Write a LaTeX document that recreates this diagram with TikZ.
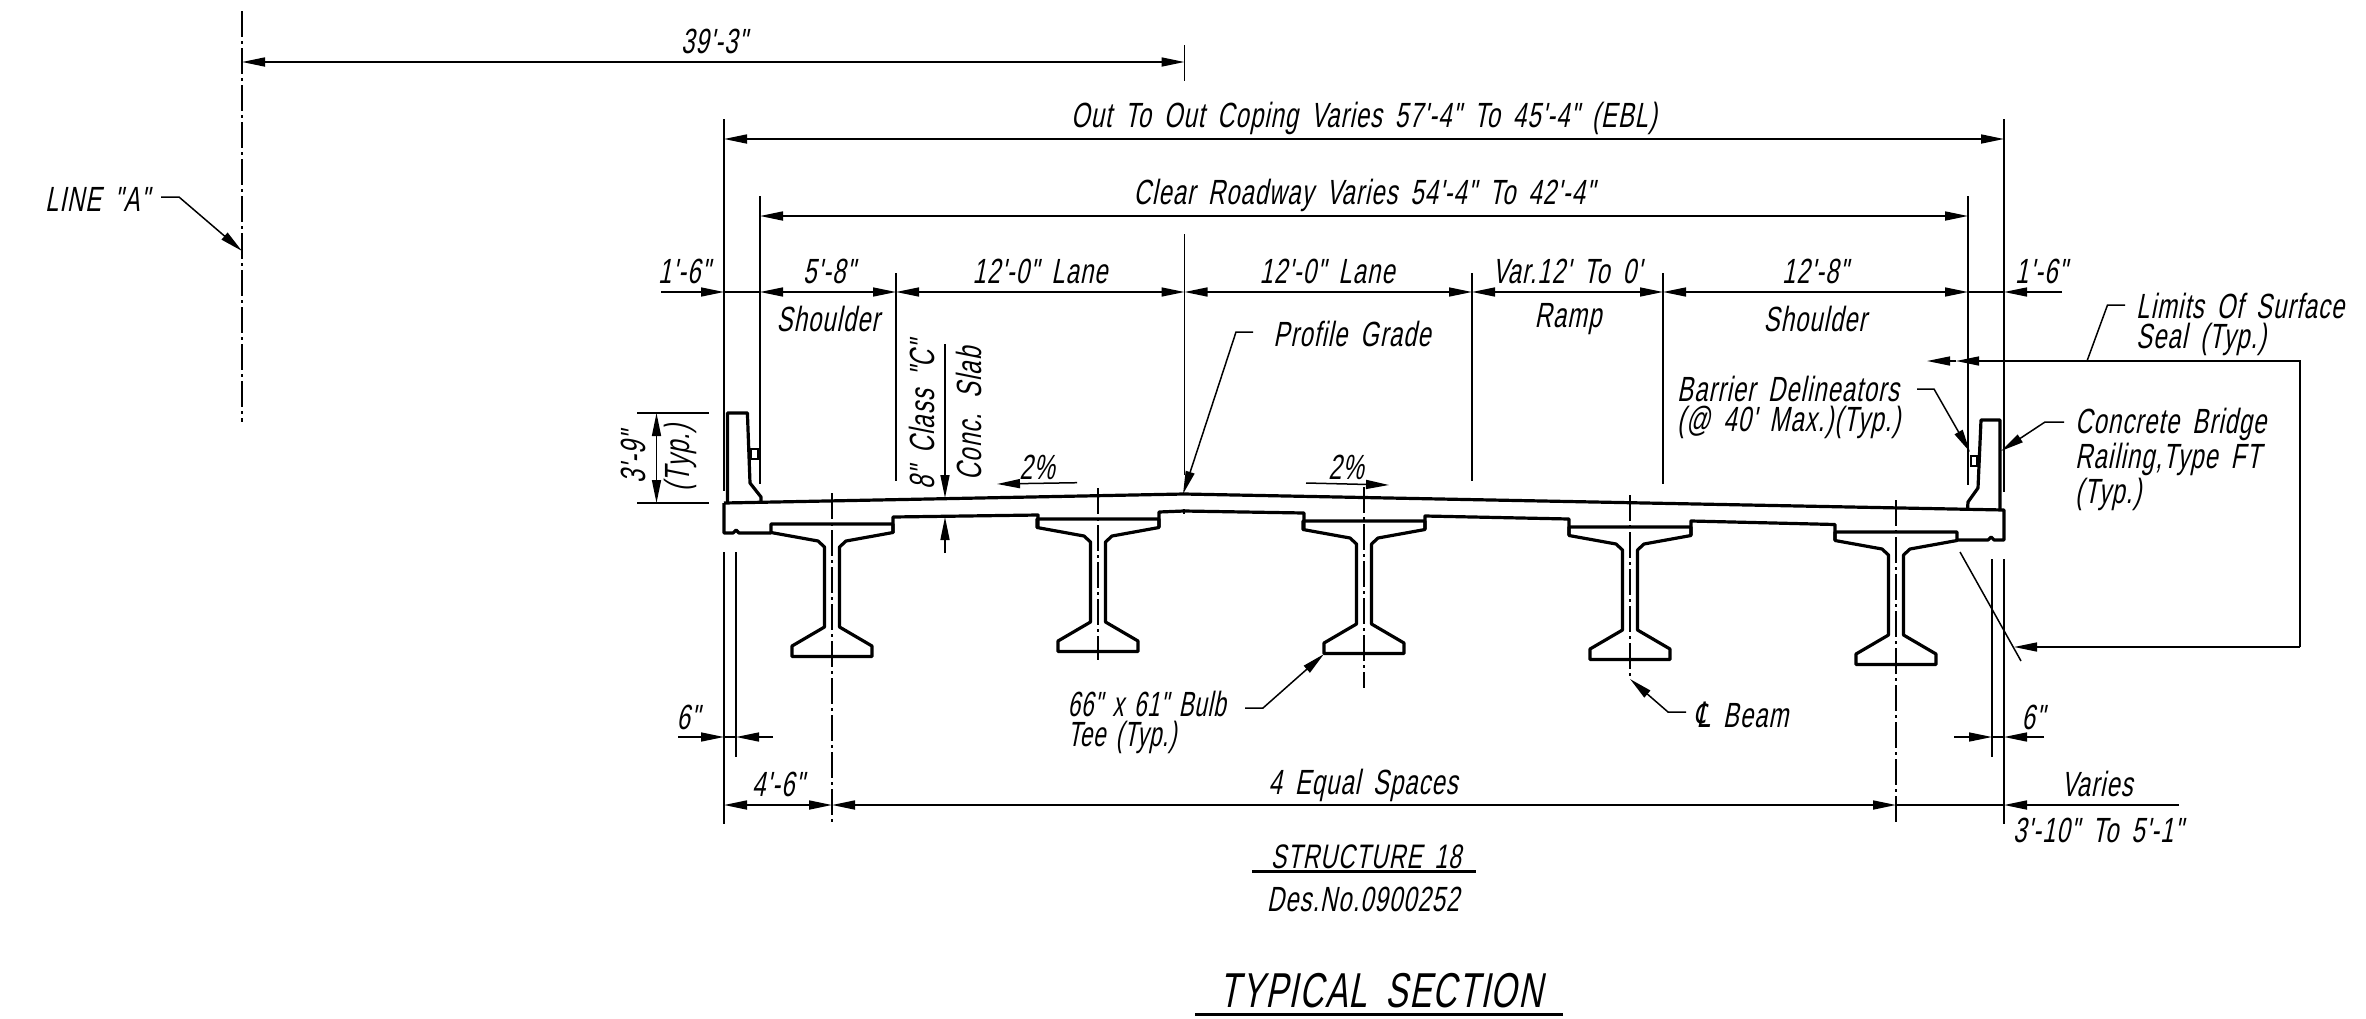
\documentclass[tikz,border=0pt]{standalone}
\usepackage{fontspec}
\usetikzlibrary{arrows.meta}
\newfontfamily\cadfont[FakeSlant=0.2,FakeStretch=0.68,LetterSpace=3,WordSpace=1.7]{Liberation Sans}
\newfontfamily\cadtight[FakeSlant=0.2,FakeStretch=0.64,LetterSpace=2,WordSpace=1.5]{Liberation Sans}
\newfontfamily\clfont[FakeSlant=0.2,FakeStretch=0.7]{DejaVu Sans}
\newcommand{\bulbtee}[2]{%
  \draw[obj] ({#1-61},#2) -- ({#1-61},{#2+8.5}) -- ({#1-14},{#2+17}) -- ({#1-7.5},{#2+23})
    -- ({#1-7.5},{#2+103}) -- ({#1-40},{#2+122}) -- ({#1-40},{#2+132.5}) -- ({#1+40},{#2+132.5})
    -- ({#1+40},{#2+122}) -- ({#1+7.5},{#2+103}) -- ({#1+7.5},{#2+23}) -- ({#1+14},{#2+17})
    -- ({#1+61},{#2+8.5}) -- ({#1+61},#2) -- cycle;}
\tikzset{
  x=1pt,y=-1pt,
  >={Triangle[length=23pt,width=9pt]},
  obj/.style={line width=3.2pt,line join=round},
  thinline/.style={line width=1.5pt},
  dimline/.style={line width=1.7pt},
  cline/.style={line width=1.5pt,dash pattern=on 26pt off 4pt on 3pt off 4pt},
  txt/.style={inner sep=0pt,yshift=-2pt,font=\cadfont\fontsize{35}{30}\selectfont},
  big/.style={inner sep=0pt,yshift=-2pt,font=\cadfont\fontsize{34}{34}\selectfont},
  vtxt/.style={inner sep=0pt,rotate=90,font=\cadfont\fontsize{35}{30}\selectfont},
}
\begin{document}
\begin{tikzpicture}
\useasboundingbox (0,0) rectangle (2366,1018);
% ---------- structure
\draw[obj] (724,503) -- (724,533) -- (733,533) -- (736,530) -- (739,533) -- (771,533);
\draw[obj] (893,533) -- (893,517) -- (1038,515) -- (1038,527);
\draw[obj] (1159,527) -- (1159,512) -- (1184,511) -- (1304,513) -- (1304,529);
\draw[obj] (1425,529) -- (1425,516) -- (1569,519) -- (1569,535);
\draw[obj] (1691,535) -- (1691,521) -- (1835,524.5) -- (1835,540);
\draw[obj] (1957,540) -- (1988,540) -- (1991,537) -- (1994,540) -- (2004,540) -- (2004,510) -- (1184,494) -- (724,503);
\bulbtee{832}{524}
\bulbtee{1098}{519}
\bulbtee{1364}{521}
\bulbtee{1630}{527}
\bulbtee{1896}{532}
% barriers
\draw[obj] (727.5,502) -- (727.5,413) -- (747.4,413) -- (750,483) -- (761,497) -- (761,502);
\draw[obj] (1967.5,509) -- (1968,502) -- (1978,488) -- (1981,420) -- (2000,420) -- (2000,510);
\draw[line width=1.8pt] (751,449) rectangle (758,459);
\draw[line width=1.8pt] (1971,456) rectangle (1977,466);
\draw[thinline] (1184,509) -- (1184,514);
% ---------- centre lines
\coordinate (lineAtop) at (242,11);
\coordinate (lineAbot) at (242,422);
\coordinate (lineAtip) at (242,251);
\coordinate (b1top) at (832,493);
\coordinate (b1bot) at (832,824);
\coordinate (b2top) at (1098,488);
\coordinate (b2bot) at (1098,660);
\coordinate (b3top) at (1364,487);
\coordinate (b3bot) at (1364,688);
\coordinate (b4top) at (1630,495);
\coordinate (b4bot) at (1630,679);
\coordinate (b5top) at (1896,500);
\coordinate (b5bot) at (1896,824);
\foreach \p in {lineA,b1,b2,b3,b4,b5}{\draw[cline] (\p top) -- (\p bot);}
% ---------- extension lines
\coordinate (e1a) at (724,119);  \coordinate (e1b) at (724,491);
\coordinate (e2a) at (760,196);  \coordinate (e2b) at (760,484);
\coordinate (e3a) at (896,273);  \coordinate (e3b) at (896,481);
\coordinate (e4a) at (1184.5,234); \coordinate (e4b) at (1184.5,475);
\coordinate (e5a) at (1472,273); \coordinate (e5b) at (1472,481);
\coordinate (e6a) at (1663,273); \coordinate (e6b) at (1663,484);
\coordinate (e7a) at (1968,196); \coordinate (e7b) at (1968,485);
\coordinate (e8a) at (2004,119); \coordinate (e8b) at (2004,492);
\foreach \i in {1,...,8}{\draw[thinline] (e\i a) -- (e\i b);}
\coordinate (e9a) at (1184.5,45); \coordinate (e9b) at (1184.5,81);
\draw[thinline] (e9a) -- (e9b);
\coordinate (l1a) at (724,552);  \coordinate (l1b) at (724,824);
\coordinate (l2a) at (736,552);  \coordinate (l2b) at (736,757);
\coordinate (l3a) at (1992,559); \coordinate (l3b) at (1992,757);
\coordinate (l4a) at (2004,559); \coordinate (l4b) at (2004,824);
\foreach \i in {1,...,4}{\draw[thinline] (l\i a) -- (l\i b);}
% ---------- overall dimensions
\coordinate (d1a) at (242,62);   \coordinate (d1b) at (1184.5,62);
\draw[dimline,<->] (d1a) -- (d1b);
\node[txt] (t39) at (714,39) {39'-3"};
\coordinate (d2a) at (724,139);  \coordinate (d2b) at (2004,139);
\draw[dimline,<->] (d2a) -- (d2b);
\node[txt] (tout) at (1364,116) {Out To Out Coping Varies 57'-4" To 45'-4" (EBL)};
\coordinate (d3a) at (760,216);  \coordinate (d3b) at (1968,216);
\draw[dimline,<->] (d3a) -- (d3b);
\node[txt] (tclear) at (1364,193) {Clear Roadway Varies 54'-4" To 42'-4"};
% ---------- row of lanes
\coordinate (r0) at (661,292);   \coordinate (r1) at (724,292);
\coordinate (r2) at (760,292);   \coordinate (r3) at (896,292);
\coordinate (r4) at (1184.5,292);\coordinate (r5) at (1472,292);
\coordinate (r6) at (1663,292);  \coordinate (r7) at (1968,292);
\coordinate (r8) at (2004,292);  \coordinate (r9) at (2062,292);
\draw[thinline,->] (r0) -- (r1);
\draw[thinline] (r1) -- (r2);
\draw[thinline,<->] (r2) -- (r3);
\draw[thinline,<->] (r3) -- (r4);
\draw[thinline,<->] (r4) -- (r5);
\draw[thinline,<->] (r5) -- (r6);
\draw[thinline,<->] (r6) -- (r7);
\draw[thinline] (r7) -- (r8);
\draw[thinline,->] (r9) -- (r8);
\node[txt] (t1a) at (684,269) {1'-6"};
\node[txt] (t58) at (829,269) {5'-8"};
\node[txt] (ts1) at (828,317) {Shoulder};
\node[txt] (t12a) at (1040,269) {12'-0" Lane};
\node[txt] (t12b) at (1327,269) {12'-0" Lane};
\node[txt] (tvar) at (1567,269) {Var.12' To 0'};
\node[txt] (tramp) at (1568,317) {Ramp};
\node[txt] (t128) at (1815,269) {12'-8"};
\node[txt] (ts2) at (1815,317) {Shoulder};
\node[txt] (t1b) at (2041,269) {1'-6"};
% ---------- barrier height
\coordinate (h1a) at (637,413); \coordinate (h1b) at (709,413);
\coordinate (h2a) at (637,503); \coordinate (h2b) at (709,503);
\draw[thinline] (h1a) -- (h1b);
\draw[thinline] (h2a) -- (h2b);
\coordinate (h3a) at (656.5,413); \coordinate (h3b) at (656.5,503);
\draw[thinline,<->] (h3a) -- (h3b);
\node[vtxt] (t39b) at (633,458) {3'-9"};
\node[vtxt] (ttyp) at (680,458) {(Typ.)};
% ---------- slab
\coordinate (s1) at (945,344); \coordinate (s2) at (945,498);
\coordinate (s3) at (945,553); \coordinate (s4) at (945,517);
\draw[thinline,->] (s1) -- (s2);
\draw[thinline,->] (s3) -- (s4);
\node[vtxt] (tclass) at (922,415) {8" Class "C"};
\node[vtxt] (tconc) at (969,414) {Conc. Slab};
% ---------- grades
\coordinate (g1) at (1077,482.7); \coordinate (g2) at (997,484);
\coordinate (g3) at (1306,483);   \coordinate (g4) at (1389,485);
\draw[thinline,->] (g1) -- (g2);
\draw[thinline,->] (g3) -- (g4);
\node[txt] (tg1) at (1037,465) {2\%};
\node[txt] (tg2) at (1346,465) {2\%};
% ---------- leaders
\node[txt] (tline) at (97,197) {LINE "A"};
\coordinate (la) at (161,197); \coordinate (lb) at (179,197);
\draw[thinline,->] (la) -- (lb) -- (lineAtip);
\node[txt] (tprof) at (1352,332) {Profile Grade};
\coordinate (pa) at (1253,332); \coordinate (pb) at (1236,332); \coordinate (pc) at (1183,494);
\draw[thinline,->] (pa) -- (pb) -- (pc);
\node[txt,anchor=west,align=left] (tbar) at (1677,405) {Barrier Delineators\\(@ 40' Max.)(Typ.)};
\coordinate (ba) at (1917,389); \coordinate (bb) at (1934,389); \coordinate (bc) at (1970,452);
\draw[thinline,->] (ba) -- (bb) -- (bc);
\node[txt,anchor=west,align=left,font=\cadfont\fontsize{35}{35}\selectfont] (tconcr) at (2075,457) {Concrete Bridge\\Railing,Type FT\\(Typ.)};
\coordinate (ca) at (2064,422); \coordinate (cb) at (2045,422); \coordinate (cc) at (2001,451);
\draw[thinline,->] (ca) -- (cb) -- (cc);
\node[txt,anchor=west,align=left] (tlim) at (2136,322) {Limits Of Surface\\Seal (Typ.)};
\coordinate (lia) at (2125,305); \coordinate (lib) at (2107.5,305); \coordinate (lic) at (2087,361);
\draw[thinline] (lia) -- (lib) -- (lic);
\coordinate (su1) at (1927,361); \coordinate (su2) at (1956,361);
\coordinate (su3) at (2300,361); \coordinate (su4) at (2300,647); \coordinate (su5) at (2014,647);
\draw[thinline,->] (su4) -- (su3) -- (su2);
\draw[thinline,->] (su2) -- (su1);
\draw[thinline,->] (su4) -- (su5);
\coordinate (sl1) at (1960,552); \coordinate (sl2) at (2021,661);
\draw[thinline] (sl1) -- (sl2);
\node[txt,anchor=west,align=left,font=\cadtight\fontsize{35}{30}\selectfont] (tbulb) at (1067.5,720) {66" x 61" Bulb\\Tee (Typ.)};
\coordinate (bua) at (1245,708); \coordinate (bub) at (1263,708); \coordinate (buc) at (1324,654);
\draw[thinline,->] (bua) -- (bub) -- (buc);
\node[txt,anchor=west] (tcl) at (1694,713) {{\clfont ℄} Beam};
\coordinate (cla) at (1686,712); \coordinate (clb) at (1668,712);
\draw[thinline,->] (cla) -- (clb) -- (b4bot);
% ---------- bottom dimensions
\coordinate (x1) at (678,737); \coordinate (x2) at (724,737); \coordinate (x3) at (736,737); \coordinate (x4) at (773,737);
\draw[thinline,->] (x1) -- (x2);
\draw[thinline] (x2) -- (x3);
\draw[thinline,->] (x4) -- (x3);
\node[txt] (t6a) at (688,715) {6"};
\coordinate (y1) at (1954,737); \coordinate (y2) at (1992,737); \coordinate (y3) at (2004,737); \coordinate (y4) at (2044,737);
\draw[thinline,->] (y1) -- (y2);
\draw[thinline] (y2) -- (y3);
\draw[thinline,->] (y4) -- (y3);
\node[txt] (t6b) at (2033,715) {6"};
\coordinate (z1) at (724,805); \coordinate (z2) at (832,805); \coordinate (z3) at (1896,805);
\coordinate (z4) at (2004,805); \coordinate (z5) at (2179,805);
\draw[dimline,<->] (z1) -- (z2);
\draw[dimline,<->] (z2) -- (z3);
\draw[dimline] (z3) -- (z4);
\draw[dimline,->] (z5) -- (z4);
\node[txt] (t46) at (778,782) {4'-6"};
\node[txt] (t4eq) at (1363,783) {4 Equal Spaces};
\node[txt] (tvar2) at (2097,782) {Varies};
\node[txt] (t310) at (2098,828) {3'-10" To 5'-1"};
% ---------- titles
\node[big] (tstr) at (1366,855) {STRUCTURE 18};
\coordinate (u1) at (1252,871); \coordinate (u2) at (1476,871);
\draw[line width=3pt] (u1) -- (u2);
\node[txt] (tdes) at (1363,897) {Des.No.0900252};
\node[inner sep=0pt,font=\cadfont\fontsize{49}{49}\selectfont] (ttitle) at (1381,991) {TYPICAL SECTION};
\coordinate (u3) at (1195,1014); \coordinate (u4) at (1563,1014);
\draw[line width=3pt] (u3) -- (u4);
\end{tikzpicture}
\end{document}
